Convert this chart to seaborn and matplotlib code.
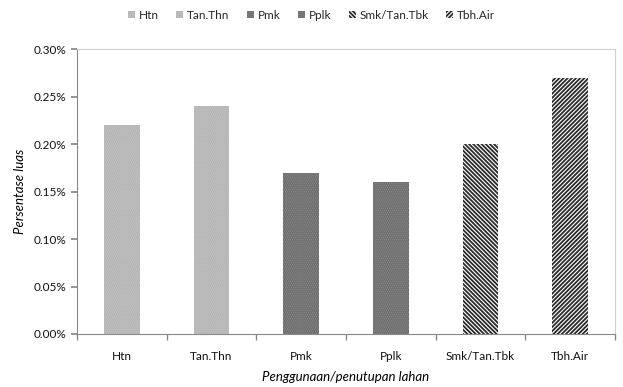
import matplotlib
matplotlib.use("Agg")
import matplotlib.pyplot as plt
import seaborn as sns
import pandas as pd
from matplotlib.patches import Patch
from matplotlib.ticker import FuncFormatter

categories = ["Htn", "Tan.Thn", "Pmk", "Pplk", "Smk/Tan.Tbk", "Tbh.Air"]
values = [0.22, 0.24, 0.17, 0.16, 0.20, 0.27]
y_ticks = [0.00, 0.05, 0.10, 0.15, 0.20, 0.25, 0.30]

sns.set_theme(style="white")
plt.rcParams['font.family'] = ['Lato', 'DejaVu Sans']
plt.rcParams['hatch.linewidth'] = 1.3

df = pd.DataFrame({"cat": categories, "val": values})

styles = [
    dict(fc="#c6c6c6", hc="#b2b2b2", hatch="........"),
    dict(fc="#c6c6c6", hc="#b2b2b2", hatch="........"),
    dict(fc="#8e8e8e", hc="#666666", hatch="........"),
    dict(fc="#8e8e8e", hc="#666666", hatch="........"),
    dict(fc="white", hc="#2a2a2a", hatch="\\\\\\\\\\\\\\\\"),
    dict(fc="white", hc="#2a2a2a", hatch="////////"),
]

fig = plt.figure(figsize=(6.23, 3.87), dpi=100)
ax = fig.add_axes([0.1236, 0.137, 0.8635, 0.736])
sns.barplot(data=df, x="cat", y="val", order=categories, width=0.4,
            color="#c4c4c4", ax=ax, legend=False)

for p, st in zip(ax.patches, styles):
    p.set_facecolor(st["fc"])
    p.set_edgecolor(st["hc"])
    p.set_hatch(st["hatch"])
    p.set_linewidth(0)

ax.set_ylim(0, 0.30)
ax.set_xlim(-0.5, 5.5)
ax.set_yticks(y_ticks)
ax.yaxis.set_major_formatter(FuncFormatter(lambda v, _: f"{v:.2f}%"))
ax.set_xticks([i - 0.5 for i in range(7)], minor=True)
ax.set_xticks(range(6))
ax.set_xticklabels(categories)
ax.tick_params(axis="x", which="major", length=0, labelsize=8.5, colors="#111111", pad=12)
ax.tick_params(axis="x", which="minor", length=4, color="#888888", direction="out", bottom=True)
ax.tick_params(axis="y", length=4, color="#888888", labelsize=8.5, colors="#111111", left=True, direction="out")

for s in ["top", "right"]:
    ax.spines[s].set_color("#d0d0d0")
    ax.spines[s].set_linewidth(0.8)
for s in ["left", "bottom"]:
    ax.spines[s].set_color("#888888")
    ax.spines[s].set_linewidth(0.8)

ax.set_xlabel("Penggunaan/penutupan lahan", fontsize=9.5, fontstyle="italic", color="#000000", labelpad=7)
ax.set_ylabel("Persentase luas", fontsize=9.5, fontstyle="italic", color="#000000", labelpad=6)

handles = [Patch(facecolor=st["fc"], edgecolor=st["hc"], hatch=st["hatch"], linewidth=0, label=c)
           for st, c in zip(styles, categories)]
fig.legend(handles=handles, loc="center", bbox_to_anchor=(0.5, 0.961), ncol=6, frameon=False,
           fontsize=8.5, handlelength=0.6, handleheight=0.6, handletextpad=0.3, columnspacing=1.5)

fig.savefig("out.png", dpi=100)
